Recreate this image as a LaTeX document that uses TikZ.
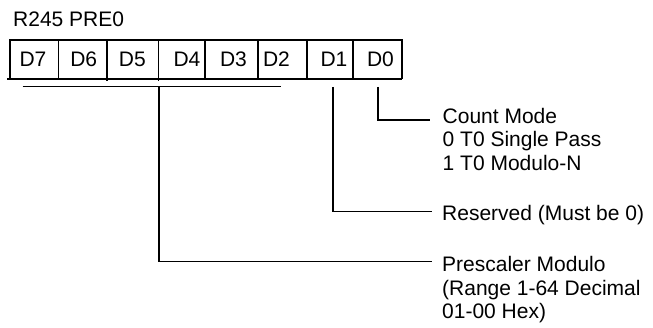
\documentclass[tikz,border=0pt]{standalone}
\usepackage{fontspec}
\setmainfont{Liberation Sans}
\begin{document}
\begin{tikzpicture}[x=1pt,y=-1pt,
  ln/.style={line width=1.6pt},
  txt/.style={inner sep=0pt,anchor=base west,align=left,font=\fontsize{21}{23.4}\selectfont},
  bitlbl/.style={inner sep=0pt,anchor=base,font=\fontsize{21}{23.4}\selectfont}]
\useasboundingbox (0,0) rectangle (653,328);
% title
\node[txt] (title) at (13,26.7) {R245 PRE0};
% register box
\draw[ln] (10,79) -- (10,40) -- (401.7,40) -- (401.7,79);
\draw[ln] (7,79) -- (401.7,79);
\foreach \x in {58.3,205,258,306.7,353} \draw[ln] (\x,40) -- (\x,79);
\foreach \x in {106.7,158.3} \draw[ln] (\x,40) -- (\x,81.5);
% bit labels
\node[bitlbl] (d7) at (33,66.7) {D7};
\node[bitlbl] (d6) at (83.7,66.7) {D6};
\node[bitlbl] (d5) at (132.3,66.7) {D5};
\node[bitlbl] (d4) at (187,66.7) {D4};
\node[bitlbl] (d3) at (233.5,66.7) {D3};
\node[bitlbl] (d2) at (276.5,66.7) {D2};
\node[bitlbl] (d1) at (334,66.7) {D1};
\node[bitlbl] (d0) at (380.5,66.7) {D0};
% descriptions (anchor = baseline of last line)
\node[txt] (cm) at (442.5,170.1) {Count Mode\\0 T0 Single Pass\\1 T0 Modulo-N};
\node[txt] (rs) at (442,221) {Reserved (Must be 0)};
\node[txt] (pm) at (442,318.5) {Prescaler Modulo\\(Range 1-64 Decimal\\01-00 Hex)};
% connector points
\coordinate (brL) at (22.7,86.7);
\coordinate (brR) at (281,86.7);
\coordinate (pmTop) at (159,86.7);
\coordinate (pmEnd) at (431.5,261.7);
\coordinate (d1Top) at (333,87);
\coordinate (rsEnd) at (431.5,211.7);
\coordinate (d0Top) at (378,87);
\coordinate (cmEnd) at (430,120);
% connectors
\draw[ln] (brL) -- (brR);
\draw[ln] (pmTop) |- (pmEnd);
\draw[ln] (d1Top) |- (rsEnd);
\draw[ln] (d0Top) |- (cmEnd);
\end{tikzpicture}
\end{document}
